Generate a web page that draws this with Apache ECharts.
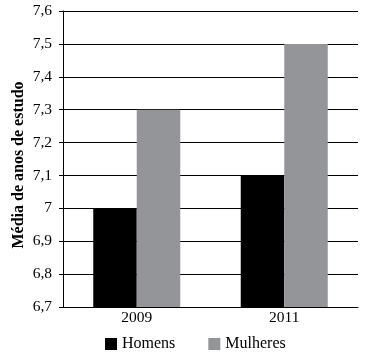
<!DOCTYPE html>
<html><head><meta charset="utf-8">
<script src="https://cdn.jsdelivr.net/npm/echarts@6/dist/echarts.min.js"></script>
<style>html,body{margin:0;padding:0;background:#fff}#c{width:369px;height:358px}</style>
</head><body><div id="c"></div>
<script>
const categories = ['2009', '2011'];
const homens = [7.0, 7.1];
const mulheres = [7.3, 7.5];
const seriesNames = ['Homens', 'Mulheres'];
const yName = 'Média de anos de estudo';

const font = 'Liberation Serif';
const chart = echarts.init(document.getElementById('c'));
chart.setOption({
  animation: false,
  textStyle: { fontFamily: font },
  grid: { left: 63, right: 11, top: 11, bottom: 51 },
  legend: {
    top: 331, left: 100, itemWidth: 12, itemHeight: 12, itemGap: 33,
    icon: 'rect',
    textStyle: { fontFamily: font, fontSize: 16, color: '#000' },
    data: seriesNames
  },
  graphic: [{
    type: 'text', x: 19, y: 165, rotation: Math.PI / 2,
    style: {
      text: yName, fontFamily: font, fontSize: 16, fontWeight: 'bold',
      fill: '#000', align: 'center', verticalAlign: 'middle'
    }
  }],
  xAxis: {
    type: 'category', data: categories,
    axisLine: { lineStyle: { color: '#000', width: 1 } },
    axisTick: { length: 5, lineStyle: { color: '#000' } },
    axisLabel: { fontFamily: font, fontSize: 15.5, color: '#000', margin: 3 }
  },
  yAxis: {
    type: 'value', min: 6.7, max: 7.6, interval: 0.1,
    axisLine: { show: true, lineStyle: { color: '#000' } },
    axisTick: { show: true, length: 4, lineStyle: { color: '#000' } },
    splitLine: { lineStyle: { color: '#000', width: 1 } },
    axisLabel: {
      fontFamily: font, fontSize: 15.5, color: '#000', margin: 11,
      formatter: v => String(+v.toFixed(1)).replace('.', ',')
    }
  },
  series: [
    { name: seriesNames[0], type: 'bar', data: homens, barWidth: 43.5, barGap: '0%', itemStyle: { color: '#000' } },
    { name: seriesNames[1], type: 'bar', data: mulheres, barWidth: 43.5, barGap: '0%', itemStyle: { color: '#939598' } }
  ]
});
</script></body></html>
